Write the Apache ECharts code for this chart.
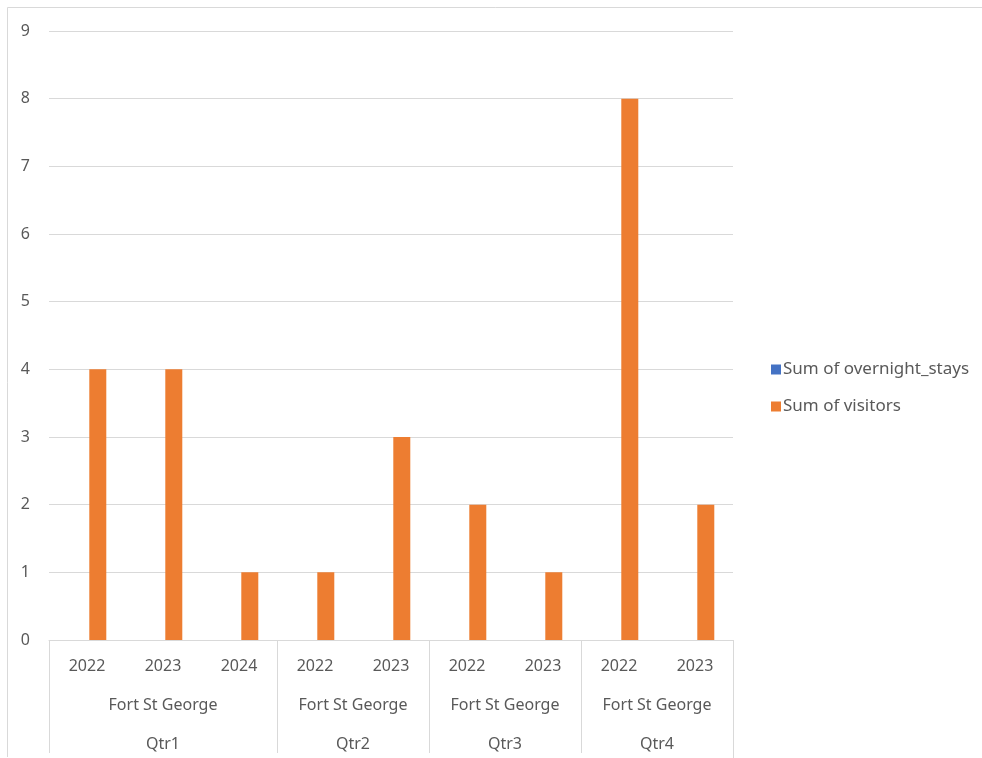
<!DOCTYPE html>
<html>
<head>
<meta charset="utf-8">
<script src="https://cdn.jsdelivr.net/npm/echarts@6/dist/echarts.min.js"></script>
<style>
  html, body { margin: 0; padding: 0; background: #ffffff; }
  #chart { width: 982px; height: 758px; }
</style>
</head>
<body>
<div id="chart"></div>
<script>
// Pivot categories: quarter > site > year
const years = ['2022', '2023', '2024', '2022', '2023', '2022', '2023', '2022', '2023'];
const sites = ['Fort St George', 'Fort St George', 'Fort St George', 'Fort St George', 'Fort St George',
               'Fort St George', 'Fort St George', 'Fort St George', 'Fort St George'];
const quarters = ['Qtr1', 'Qtr1', 'Qtr1', 'Qtr2', 'Qtr2', 'Qtr3', 'Qtr3', 'Qtr4', 'Qtr4'];

// Series values
const overnightStays = [0, 0, 0, 0, 0, 0, 0, 0, 0];
const visitors = [4, 4, 1, 1, 3, 2, 1, 8, 2];

// Value axis ticks
const yMin = 0, yMax = 9, yStep = 1;

const FONT = "'Noto Sans', 'Open Sans', sans-serif";
const TEXT = '#595959';
const LINE = '#d9d9d9';

const chart = echarts.init(document.getElementById('chart'), null, { renderer: 'canvas' });

chart.setOption({
  animation: false,
  backgroundColor: '#ffffff',
  textStyle: { fontFamily: FONT },
  grid: { left: 49, right: 249, top: 31, bottom: 118, containLabel: false },
  legend: {
    orient: 'vertical',
    left: 766,
    top: 356,
    itemWidth: 10,
    itemHeight: 10,
    itemGap: 20,
    icon: 'rect',
    textStyle: { fontFamily: FONT, fontSize: 17, color: TEXT, padding: [0, 0, 0, -3] },
    data: ['Sum of overnight_stays', 'Sum of visitors']
  },
  xAxis: {
    type: 'category',
    data: years,
    axisLine: { show: true, lineStyle: { color: LINE, width: 1 } },
    axisTick: { show: false },
    axisLabel: { color: TEXT, fontSize: 16, fontFamily: FONT, margin: 18, interval: 0 },
    splitLine: { show: false }
  },
  yAxis: {
    type: 'value',
    min: yMin,
    max: yMax,
    interval: yStep,
    axisLine: { show: false },
    axisTick: { show: false },
    axisLabel: { color: TEXT, fontSize: 16, fontFamily: FONT, margin: 19 },
    splitLine: { show: true, lineStyle: { color: LINE, width: 1 } }
  },
  series: [
    {
      name: 'Sum of overnight_stays',
      type: 'bar',
      data: overnightStays,
      barWidth: 17,
      barGap: '27%',
      itemStyle: { color: '#4472C4' }
    },
    {
      name: 'Sum of visitors',
      type: 'bar',
      data: visitors,
      barWidth: 17,
      barGap: '27%',
      itemStyle: { color: '#ED7D31' }
    }
  ]
});

// Multi-level category labels and group separators, placed from the category axis scale
function drawGroups() {
  const xs = years.map((_, i) => chart.convertToPixel({ xAxisIndex: 0 }, i));
  const band = xs[1] - xs[0];
  const axisY = chart.convertToPixel({ yAxisIndex: 0 }, yMin);
  const els = [];

  // chart frame
  els.push({ type: 'line', shape: { x1: 7.5, y1: 7.5, x2: 990, y2: 7.5 }, style: { stroke: LINE, lineWidth: 1 }, silent: true });
  els.push({ type: 'line', shape: { x1: 7.5, y1: 7.5, x2: 7.5, y2: 757 }, style: { stroke: LINE, lineWidth: 1 }, silent: true });

  // spans of consecutive equal quarter values
  const spans = [];
  quarters.forEach((q, i) => {
    const last = spans[spans.length - 1];
    if (last && last.q === q) last.end = i;
    else spans.push({ q: q, site: sites[i], start: i, end: i });
  });

  const bottomY = axisY + 113;
  spans.forEach((s, k) => {
    const left = xs[s.start] - band / 2;
    const right = xs[s.end] + band / 2;
    const cx = (left + right) / 2;
    if (k === 0) {
      els.push({ type: 'line', shape: { x1: Math.round(left) + 0.5, y1: axisY, x2: Math.round(left) + 0.5, y2: bottomY },
        style: { stroke: LINE, lineWidth: 1 }, silent: true });
    }
    els.push({ type: 'line', shape: { x1: Math.round(right) + 0.5, y1: axisY, x2: Math.round(right) + 0.5, y2: k === spans.length - 1 ? 760 : bottomY },
      style: { stroke: LINE, lineWidth: 1 }, silent: true });
    els.push({ type: 'text', x: cx, y: axisY + 65, silent: true,
      style: { text: s.site, fontSize: 16, fontFamily: FONT, fill: TEXT, align: 'center', verticalAlign: 'middle' } });
    els.push({ type: 'text', x: cx, y: axisY + 104, silent: true,
      style: { text: s.q, fontSize: 16, fontFamily: FONT, fill: TEXT, align: 'center', verticalAlign: 'middle' } });
  });

  chart.setOption({ graphic: { elements: els } });
}
drawGroups();
</script>
</body>
</html>
